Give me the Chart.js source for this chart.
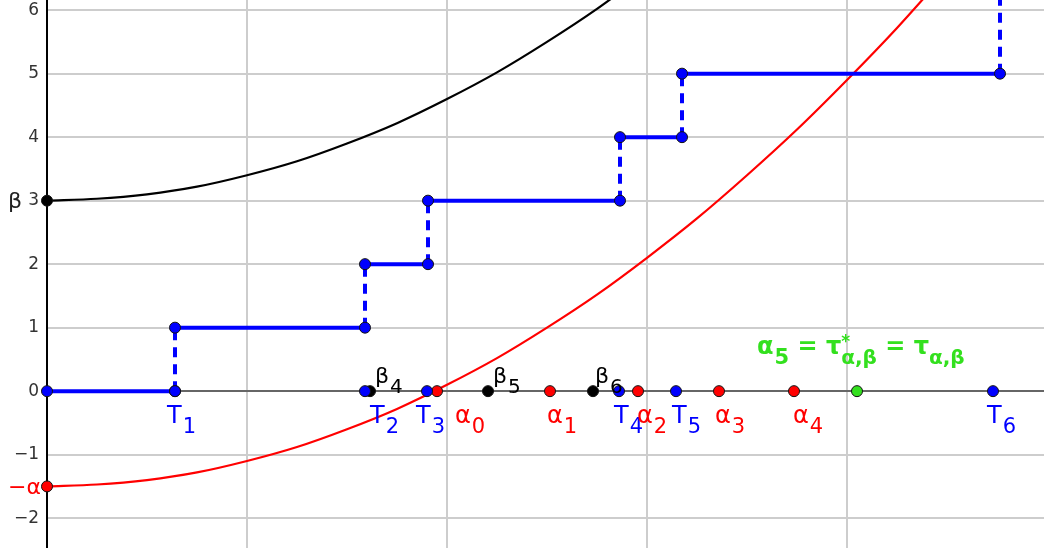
<!DOCTYPE html>
<html>
<head>
<meta charset="utf-8">
<script src="https://cdn.jsdelivr.net/npm/chart.js@4"></script>
<style>
  body { margin: 0; background: #fff; }
  canvas { display: block; }
</style>
</head>
<body>
<canvas id="chart" width="1044" height="548"></canvas>
<script>
// curves
const betaCurveX = [0, 0.25, 0.5, 0.75, 1.0, 1.25, 1.5, 1.75, 2.0, 2.25, 2.5, 2.75, 3.0];
const betaCurveY = [3, 3.03, 3.1, 3.22, 3.4, 3.62, 3.9, 4.22, 4.6, 5.02, 5.5, 6.02, 6.6];
const alphaCurveX = [0, 0.25, 0.5, 0.75, 1.0, 1.25, 1.5, 1.75, 2.0, 2.25, 2.5, 2.75, 3.0, 3.25, 3.5, 3.75, 4.0, 4.25, 4.5];
const alphaCurveY = [-1.5, -1.47, -1.4, -1.28, -1.1, -0.88, -0.6, -0.28, 0.1, 0.52, 1.0, 1.52, 2.1, 2.72, 3.4, 4.12, 4.9, 5.72, 6.6];

// step function: jump times and levels
const jumpTimes = [0.64, 1.59, 1.905, 2.865, 3.175, 4.765];
const stepLevels = [0, 1, 2, 3, 4, 5, 6];
const topLevel = 6.4;

// points on the time axis
const tMarks = [0.64, 1.59, 1.9, 2.86, 3.145, 4.73];
const tSubs = ['1', '2', '3', '4', '5', '6'];
const alphaMarks = [1.95, 2.515, 2.955, 3.36, 3.735];
const alphaSubs = ['0', '1', '2', '3', '4'];
const betaMarks = [1.615, 2.205, 2.73];
const betaSubs = ['4', '5', '6'];
const alpha5 = 4.05;
const alphaValue = -1.5;
const betaValue = 3;

const yTicks = [-2, -1, 0, 1, 2, 3, 4, 5, 6];

// label offsets (pixels)
const tOff = [-8, 5, -11, -5, -4, -6];
const alphaOff = [18, -3, -1, -4, -1];
const betaOff = [5, 5, 2];

const BLUE = '#0000ff';
const RED = '#ff0000';
const GREEN = '#33e01e';
const FONT = '"DejaVu Sans", sans-serif';

const pts = (xs, ys) => xs.map((x, i) => ({ x: x, y: ys[i] }));

// horizontal pieces and dashed verticals
const horiz = [{ x: 0, y: stepLevels[0] }];
const vert = [];
const stepPts = [{ x: 0, y: 0 }];
jumpTimes.forEach((t, i) => {
    horiz.push({ x: t, y: stepLevels[i] });
    horiz.push({ x: t, y: null });
    horiz.push({ x: t, y: stepLevels[i + 1] });
    const upper = i === jumpTimes.length - 1 ? topLevel : stepLevels[i + 1];
    vert.push({ x: t, y: stepLevels[i] }, { x: t, y: upper }, { x: t, y: null });
    stepPts.push({ x: t, y: stepLevels[i] });
    if (i < jumpTimes.length - 1) stepPts.push({ x: t, y: stepLevels[i + 1] });
});
horiz.pop(); horiz.pop();

function dot(data, color, r, order) {
    return {
        data: data, showLine: false, pointRadius: r, pointHoverRadius: r,
        pointBackgroundColor: color, pointBorderColor: '#111', pointBorderWidth: 1,
        clip: false, order: order
    };
}

function drawSub(ctx, x, y, main, sub, color, size, subSize, bold) {
    const w = bold ? 'bold ' : '';
    ctx.fillStyle = color;
    ctx.font = w + size + 'px ' + FONT;
    ctx.fillText(main, x, y);
    const mw = ctx.measureText(main).width;
    ctx.font = w + subSize + 'px ' + FONT;
    ctx.fillText(sub, x + mw + 1, y + 10);
    return x + mw + 1 + ctx.measureText(sub).width;
}

const labelPlugin = {
    id: 'labels',
    afterDatasetsDraw(chart) {
        const ctx = chart.ctx;
        const xs = chart.scales.x, ys = chart.scales.y;
        const y0 = ys.getPixelForValue(0);
        ctx.save();
        ctx.textAlign = 'left';
        ctx.textBaseline = 'alphabetic';
        tMarks.forEach((t, i) => {
            drawSub(ctx, xs.getPixelForValue(t) + tOff[i], y0 + 32, 'T', tSubs[i], BLUE, 24, 21);
        });
        alphaMarks.forEach((a, i) => {
            drawSub(ctx, xs.getPixelForValue(a) + alphaOff[i], y0 + 32, 'α', alphaSubs[i], RED, 24, 21);
        });
        betaMarks.forEach((b, i) => {
            drawSub(ctx, xs.getPixelForValue(b) + betaOff[i], y0 - 8, 'β', betaSubs[i], '#000', 22, 20);
        });
        // y-axis names
        ctx.font = '22px ' + FONT;
        ctx.fillStyle = '#222';
        ctx.fillText('β', 8, ys.getPixelForValue(betaValue) + 7);
        ctx.fillStyle = RED;
        ctx.fillText('−α', 8, ys.getPixelForValue(alphaValue) + 8);
        // green label
        let gx = xs.getPixelForValue(alpha5) - 100;
        const gy = y0 - 37;
        gx = drawSub(ctx, gx, gy, 'α', '5', GREEN, 24, 21, true);
        ctx.font = 'bold 24px ' + FONT;
        ctx.fillText(' = τ', gx, gy);
        gx += ctx.measureText(' = τ').width;
        ctx.font = 'bold 17px ' + FONT;
        ctx.fillText('*', gx, gy - 7);
        gx = drawSub(ctx, gx - 1, gy, '', 'α,β', GREEN, 24, 20, true);
        ctx.font = 'bold 24px ' + FONT;
        ctx.fillText(' = τ', gx, gy);
        gx += ctx.measureText(' = τ').width;
        drawSub(ctx, gx - 1, gy, '', 'α,β', GREEN, 24, 20, true);
        ctx.restore();
    }
};

function noPad(s) {
    s.paddingTop = 0; s.paddingBottom = 0; s.paddingLeft = 0; s.paddingRight = 0;
}

new Chart(document.getElementById('chart'), {
    type: 'scatter',
    data: {
        datasets: [
            { data: pts(betaCurveX, betaCurveY), showLine: true, borderColor: '#000', borderWidth: 2.2,
              pointRadius: 0, cubicInterpolationMode: 'monotone', order: 10 },
            { data: pts(alphaCurveX, alphaCurveY), showLine: true, borderColor: RED, borderWidth: 2.2,
              pointRadius: 0, cubicInterpolationMode: 'monotone', order: 10 },
            { data: horiz, showLine: true, borderColor: BLUE, borderWidth: 4, pointRadius: 0,
              spanGaps: false, order: 8 },
            { data: vert, showLine: true, borderColor: BLUE, borderWidth: 4, borderDash: [10, 7],
              pointRadius: 0, spanGaps: false, order: 8 },
            dot(stepPts, BLUE, 5.5, 1),
            dot(tMarks.map(t => ({ x: t, y: 0 })), BLUE, 5.5, 2),
            dot(alphaMarks.map(a => ({ x: a, y: 0 })), RED, 5.5, 2),
            dot(betaMarks.map(b => ({ x: b, y: 0 })), '#000', 5.5, 2),
            dot([{ x: alpha5, y: 0 }], GREEN, 5.5, 2),
            dot([{ x: 0, y: betaValue }], '#000', 5.5, 2),
            dot([{ x: 0, y: alphaValue }], RED, 5.5, 2)
        ]
    },
    options: {
        responsive: false,
        animation: false,
        layout: { padding: 0, autoPadding: false },
        plugins: { legend: { display: false }, tooltip: { enabled: false } },
        scales: {
            x: {
                type: 'linear', min: 0, max: 4.985,
                ticks: { display: false, stepSize: 1, includeBounds: false },
                grid: { color: c => c.tick.value === 0 ? '#000' : '#cdcdcd', lineWidth: 2, drawTicks: false },
                border: { display: false },
                afterFit: s => { s.height = 0; noPad(s); }
            },
            y: {
                min: -2.47, max: 6.16,
                afterBuildTicks: s => { s.ticks = yTicks.map(v => ({ value: v })); },
                ticks: {
                    padding: 8, color: '#333', font: { family: FONT, size: 17 },
                    callback: v => String(v).replace('-', '−')
                },
                grid: { color: c => c.tick.value === 0 ? '#666' : '#cdcdcd', lineWidth: 2, drawTicks: false },
                border: { color: '#000', width: 2 },
                afterFit: s => { s.width = 47; noPad(s); }
            }
        }
    },
    plugins: [labelPlugin]
});
</script>
</body>
</html>
